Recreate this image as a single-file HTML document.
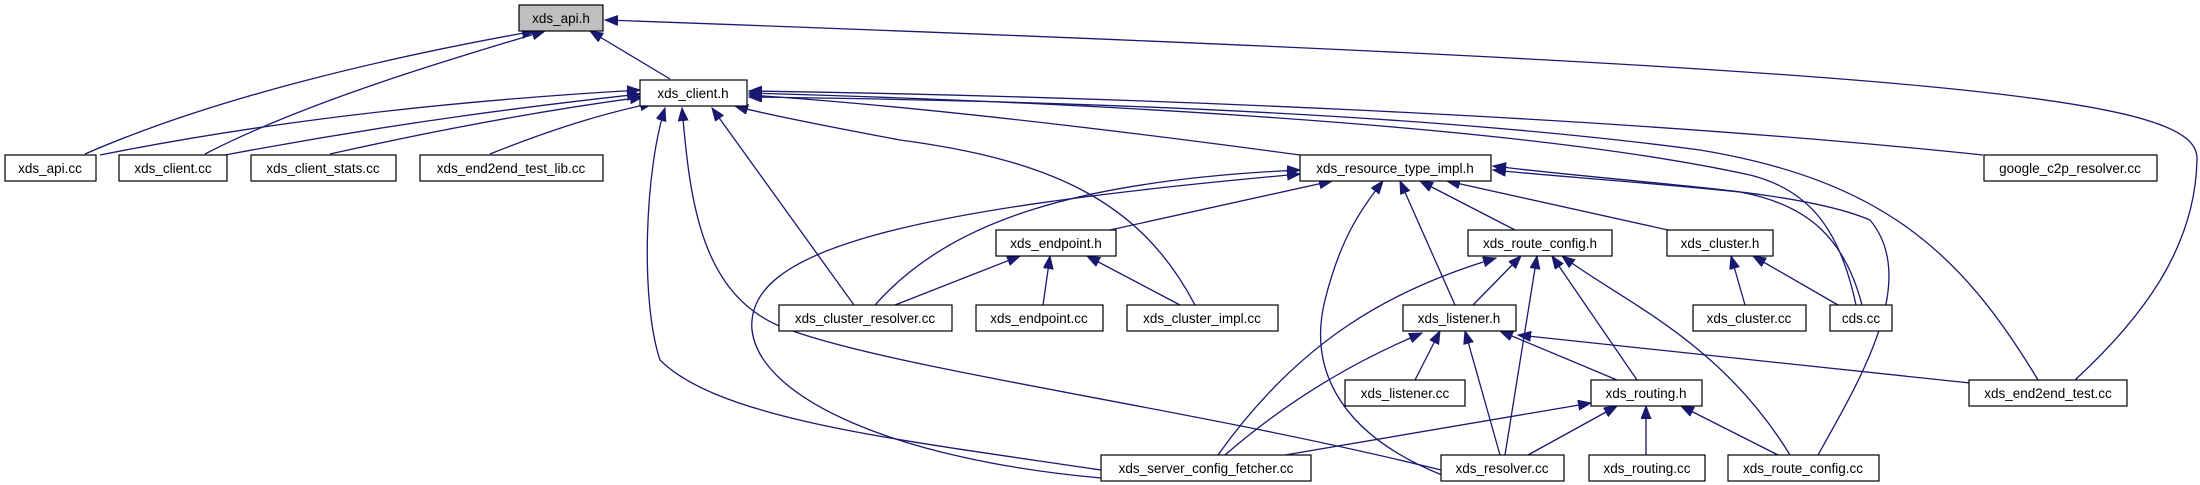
<!DOCTYPE html>
<html><head><meta charset="utf-8"><style>
html,body{margin:0;padding:0;background:#fff;}
svg{display:block}
text{font-family:"Liberation Sans","DejaVu Sans",sans-serif;font-size:13.5px;fill:#000;text-anchor:middle}
.n{fill:#fff;stroke:#000;stroke-width:1.2}
.e{fill:none;stroke:#191970;stroke-width:1.3;marker-end:url(#a)}
</style></head><body>
<svg width="2200" height="485" viewBox="0 0 2200 485" xmlns="http://www.w3.org/2000/svg">
<defs><marker id="a" markerUnits="userSpaceOnUse" markerWidth="14" markerHeight="12" refX="13" refY="5" orient="auto"><path d="M0,0 L13,5 L0,10 z" fill="#191970" stroke="#191970"/></marker></defs>
<g>
<path class="e" d="M670,79 L590,31"/>
<path class="e" d="M85,154 C220,95 400,55 535,31"/>
<path class="e" d="M205,154 C300,105 430,65 545,31"/>
<path class="e" d="M2075,380 C2140,320 2195,250 2197,160 C2200,100 2000,70 605,20"/>
<path class="e" d="M100,155 C300,115 500,98 640,90"/>
<path class="e" d="M225,155 C400,122 540,105 640,94"/>
<path class="e" d="M330,154 C460,125 560,108 643,97"/>
<path class="e" d="M490,154 C560,126 610,112 653,103"/>
<path class="e" d="M1300,155 C1100,128 900,105 749,95"/>
<path class="e" d="M1983,155 C1600,115 1100,96 749,91"/>
<path class="e" d="M1856,305 C1840,230 1810,190 1750,175 C1500,120 1000,100 749,93"/>
<path class="e" d="M2038,380 C1960,250 1880,180 1700,150 C1400,110 1000,100 749,97"/>
<path class="e" d="M854,305 L712,108"/>
<path class="e" d="M1195,305 C1140,200 1050,160 900,140 C820,125 760,113 735,106"/>
<path class="e" d="M1101,470 C900,440 720,420 660,360 C640,300 645,170 665,108"/>
<path class="e" d="M1441,470 C1200,410 900,370 790,330 C700,300 690,200 682,108"/>
<path class="e" d="M1110,230 L1332,181"/>
<path class="e" d="M875,305 C950,220 1080,180 1300,170"/>
<path class="e" d="M1101,478 C900,460 760,400 752,330 C745,250 900,210 1300,174"/>
<path class="e" d="M1515,230 L1420,181"/>
<path class="e" d="M1455,305 L1400,181"/>
<path class="e" d="M1668,230 L1447,181"/>
<path class="e" d="M1862,305 C1845,240 1810,205 1740,192 C1620,180 1550,176 1493,170"/>
<path class="e" d="M1818,455 C1860,380 1920,280 1870,220 C1800,190 1650,185 1493,166"/>
<path class="e" d="M1442,475 C1330,430 1310,360 1325,300 C1340,240 1360,210 1383,181"/>
<path class="e" d="M895,305 L1020,256"/>
<path class="e" d="M1043,305 L1050,256"/>
<path class="e" d="M1180,305 L1087,256"/>
<path class="e" d="M1473,305 L1521,256"/>
<path class="e" d="M1218,455 C1300,340 1390,290 1496,258"/>
<path class="e" d="M1505,455 L1537,256"/>
<path class="e" d="M1637,380 L1552,256"/>
<path class="e" d="M1790,455 C1720,340 1620,300 1562,256"/>
<path class="e" d="M1745,305 L1731,256"/>
<path class="e" d="M1838,305 L1753,256"/>
<path class="e" d="M1415,380 L1440,331"/>
<path class="e" d="M1225,455 C1300,390 1370,355 1422,333"/>
<path class="e" d="M1500,455 L1465,331"/>
<path class="e" d="M1617,380 L1500,331"/>
<path class="e" d="M1970,383 L1518,335"/>
<path class="e" d="M1285,455 L1591,403"/>
<path class="e" d="M1528,455 L1617,406"/>
<path class="e" d="M1646,455 L1646,406"/>
<path class="e" d="M1778,455 L1681,406"/>
</g>
<g>
<rect x="519" y="5" width="84" height="26" fill="#bfbfbf" stroke="#000" stroke-width="1.2"/><text x="561" y="23">xds_api.h</text>
<rect class="n" x="640" y="80" width="107" height="26"/><text x="693" y="98">xds_client.h</text>
<rect class="n" x="5" y="155" width="91" height="26"/><text x="50" y="173">xds_api.cc</text>
<rect class="n" x="119" y="155" width="108" height="26"/><text x="173" y="173">xds_client.cc</text>
<rect class="n" x="251" y="155" width="145" height="26"/><text x="323" y="173">xds_client_stats.cc</text>
<rect class="n" x="420" y="155" width="183" height="26"/><text x="511" y="173">xds_end2end_test_lib.cc</text>
<rect class="n" x="1300" y="155" width="191" height="26"/><text x="1395" y="173">xds_resource_type_impl.h</text>
<rect class="n" x="1984" y="155" width="173" height="26"/><text x="2070" y="173">google_c2p_resolver.cc</text>
<rect class="n" x="996" y="230" width="120" height="26"/><text x="1056" y="248">xds_endpoint.h</text>
<rect class="n" x="1468" y="230" width="144" height="26"/><text x="1540" y="248">xds_route_config.h</text>
<rect class="n" x="1667" y="230" width="106" height="26"/><text x="1720" y="248">xds_cluster.h</text>
<rect class="n" x="779" y="305" width="173" height="26"/><text x="865" y="323">xds_cluster_resolver.cc</text>
<rect class="n" x="976" y="305" width="127" height="26"/><text x="1039" y="323">xds_endpoint.cc</text>
<rect class="n" x="1127" y="305" width="151" height="26"/><text x="1202" y="323">xds_cluster_impl.cc</text>
<rect class="n" x="1403" y="305" width="113" height="26"/><text x="1459" y="323">xds_listener.h</text>
<rect class="n" x="1693" y="305" width="113" height="26"/><text x="1749" y="323">xds_cluster.cc</text>
<rect class="n" x="1830" y="305" width="62" height="26"/><text x="1861" y="323">cds.cc</text>
<rect class="n" x="1345" y="380" width="120" height="26"/><text x="1405" y="398">xds_listener.cc</text>
<rect class="n" x="1591" y="380" width="111" height="26"/><text x="1646" y="398">xds_routing.h</text>
<rect class="n" x="1969" y="380" width="158" height="26"/><text x="2048" y="398">xds_end2end_test.cc</text>
<rect class="n" x="1101" y="455" width="210" height="26"/><text x="1206" y="473">xds_server_config_fetcher.cc</text>
<rect class="n" x="1441" y="455" width="123" height="26"/><text x="1502" y="473">xds_resolver.cc</text>
<rect class="n" x="1589" y="455" width="116" height="26"/><text x="1647" y="473">xds_routing.cc</text>
<rect class="n" x="1728" y="455" width="151" height="26"/><text x="1803" y="473">xds_route_config.cc</text>
</g>
</svg>
</body></html>
